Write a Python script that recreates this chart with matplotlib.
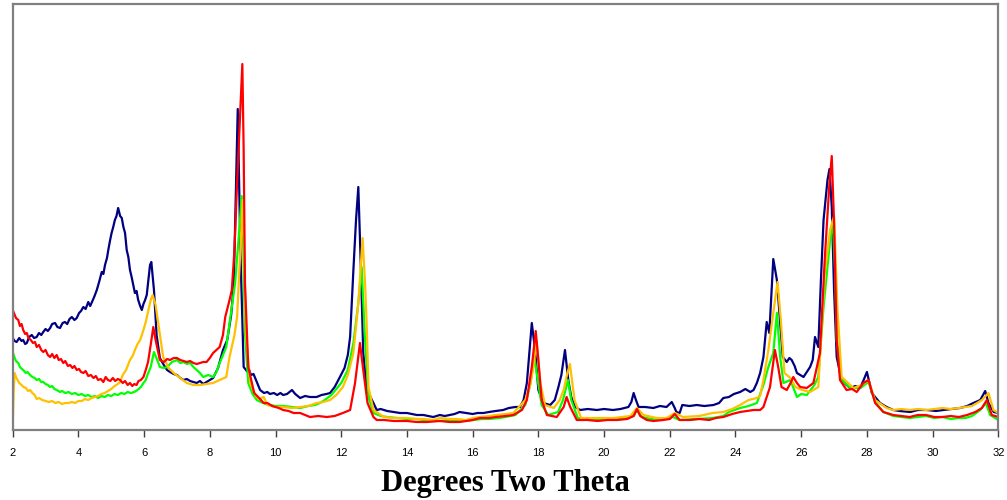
import matplotlib.pyplot as plt

# x in degrees 2-theta, y in arbitrary intensity units
navy_x = [2.0, 2.06, 2.12, 2.2, 2.27, 2.32, 2.38, 2.43, 2.5, 2.58, 2.65, 2.73, 2.8, 2.87, 2.93, 3.0, 3.07,
          3.14, 3.2, 3.29, 3.36, 3.44, 3.52, 3.59, 3.66, 3.73, 3.8, 3.88, 3.95, 4.02, 4.08, 4.15, 4.22, 4.3,
          4.36, 4.4, 4.48, 4.56, 4.63, 4.71, 4.76, 4.81, 4.87, 4.91, 4.96, 5.01, 5.06, 5.11, 5.16, 5.21,
          5.27, 5.32, 5.37, 5.42, 5.47, 5.52, 5.57, 5.62, 5.67, 5.72, 5.77, 5.82, 5.88, 5.93, 5.98, 6.03,
          6.08, 6.13, 6.18, 6.22, 6.3, 6.38, 6.48, 6.6, 6.7, 6.79, 6.9, 7.0, 7.1, 7.2, 7.3, 7.4, 7.5, 7.6,
          7.7, 7.8, 7.9, 8.0, 8.1, 8.25, 8.4, 8.53, 8.65, 8.73, 8.8, 8.85, 8.93, 9.03, 9.1, 9.15, 9.2, 9.25,
          9.33, 9.43, 9.53, 9.65, 9.75, 9.83, 9.95, 10.05, 10.15, 10.23, 10.35, 10.5, 10.6, 10.75, 10.9,
          11.05, 11.25, 11.4, 11.55, 11.66, 11.8, 11.96, 12.1, 12.2, 12.27, 12.37, 12.45, 12.52, 12.6,
          12.67, 12.78, 12.98, 13.08, 13.2, 13.4, 13.6, 13.79, 14.0, 14.15, 14.3, 14.5, 14.65, 14.8, 15.0,
          15.15, 15.3, 15.45, 15.6, 15.8, 16.0, 16.15, 16.33, 16.5, 16.7, 16.93, 17.1, 17.3, 17.44, 17.55,
          17.65, 17.72, 17.8, 17.9, 18.0, 18.15, 18.36, 18.5, 18.61, 18.7, 18.81, 18.91, 19.0, 19.12,
          19.27, 19.5, 19.78, 20.0, 20.27, 20.5, 20.74, 20.83, 20.9, 20.97, 21.05, 21.25, 21.5, 21.7, 21.9,
          22.06, 22.15, 22.2, 22.3, 22.38, 22.6, 22.82, 23.05, 23.33, 23.5, 23.63, 23.8, 23.95, 24.14,
          24.3, 24.45, 24.55, 24.65, 24.75, 24.85, 24.95, 25.03, 25.1, 25.15, 25.26, 25.36, 25.44, 25.56,
          25.64, 25.71, 25.8, 25.87, 25.97, 26.07, 26.17, 26.27, 26.35, 26.42, 26.52, 26.6, 26.68, 26.8,
          26.86, 26.93, 27.0, 27.08, 27.23, 27.35, 27.49, 27.65, 27.79, 27.9, 28.0, 28.15, 28.4, 28.6,
          28.8, 29.0, 29.32, 29.55, 29.82, 30.1, 30.33, 30.6, 30.84, 31.05, 31.24, 31.45, 31.6, 31.7,
          31.86, 32.0]
navy_y = [92, 89, 88, 92, 89, 90, 86, 87, 93, 95, 92, 93, 97, 95, 98, 101, 99,
          102, 106, 107, 103, 102, 107, 108, 106, 111, 113, 110, 112, 117, 119, 123, 121, 128,
          124, 127, 133, 140, 148, 158, 156, 165, 172, 180, 189, 197, 203, 210, 214, 222,
          214, 212, 203, 197, 180, 173, 160, 153, 145, 137, 139, 130, 124, 120, 126, 130,
          135, 150, 165, 168, 140, 95, 72, 65, 60, 58, 56, 55, 52, 50, 51, 49, 48, 47,
          49, 46, 48, 50, 52, 62, 80, 90, 115, 147, 247, 321, 180, 63, 60, 58, 60, 55,
          56, 48, 40, 37, 38, 36, 37, 35, 37, 35, 36, 40, 36, 32, 34,
          33, 33, 35, 36, 37, 43, 53, 62, 75, 93, 160, 210, 243, 160,
          77, 40, 27, 20, 21, 19, 18, 17, 17, 16, 15, 15, 14, 13, 15,
          14, 15, 16, 18, 17, 16, 17, 17, 18, 19, 20, 22, 23, 23, 30,
          47, 75, 107, 80, 40, 27, 25, 30, 43, 55, 80, 50, 33, 23,
          20, 21, 20, 21, 20, 21, 23, 28, 37, 30, 23, 23, 22, 24, 23,
          28, 22, 18, 17, 25, 24, 25, 24, 25, 27, 32, 33, 36, 38,
          41, 38, 40, 47, 57, 73, 108, 97, 140, 171, 150, 107, 73, 68,
          72, 70, 64, 57, 55, 53, 58, 63, 70, 93, 83, 150, 210, 250,
          261, 223, 140, 73, 50, 46, 42, 44, 42, 50, 58, 37, 27, 23,
          20, 19, 18, 20, 20, 19, 20, 21, 22, 24, 27, 30, 39, 27,
          18, 17]

red_x = [2.0, 2.05, 2.1, 2.17, 2.22, 2.27, 2.32, 2.38, 2.43, 2.48, 2.55, 2.62, 2.68, 2.73, 2.8, 2.87, 2.93,
         3.0, 3.07, 3.14, 3.2, 3.27, 3.34, 3.4, 3.47, 3.54, 3.6, 3.68, 3.75, 3.82, 3.88, 3.95, 4.02, 4.08,
         4.15, 4.22, 4.3, 4.38, 4.46, 4.53, 4.6, 4.68, 4.76, 4.83, 4.9, 4.97, 5.05, 5.12, 5.2, 5.27, 5.35,
         5.42, 5.5, 5.57, 5.64, 5.7, 5.77, 5.83, 5.9, 5.98, 6.05, 6.12, 6.2, 6.28, 6.35, 6.48, 6.6, 6.7,
         6.79, 6.9, 7.0, 7.1, 7.2, 7.3, 7.4, 7.5, 7.6, 7.7, 7.8, 7.9, 8.0, 8.1, 8.2, 8.3, 8.4, 8.47, 8.6,
         8.67, 8.75, 8.83, 8.93, 8.99, 9.03, 9.07, 9.17, 9.35, 9.5, 9.64, 9.75, 9.9, 10.1, 10.23, 10.4,
         10.55, 10.75, 10.9, 11.05, 11.3, 11.56, 11.8, 12.05, 12.27, 12.42, 12.57, 12.67, 12.8, 12.98,
         13.08, 13.3, 13.6, 14.0, 14.3, 14.6, 15.0, 15.3, 15.6, 16.0, 16.22, 16.5, 16.7, 17.0, 17.24,
         17.5, 17.65, 17.8, 17.92, 18.0, 18.1, 18.26, 18.56, 18.77, 18.86, 18.97, 19.17, 19.5, 19.8, 20.1,
         20.4, 20.7, 20.9, 21.0, 21.1, 21.3, 21.5, 21.8, 22.0, 22.15, 22.3, 22.6, 22.9, 23.2, 23.4, 23.63,
         23.9, 24.14, 24.35, 24.55, 24.75, 24.85, 25.05, 25.2, 25.3, 25.4, 25.56, 25.66, 25.76, 25.87,
         25.97, 26.17, 26.37, 26.57, 26.72, 26.86, 26.93, 27.0, 27.08, 27.18, 27.38, 27.55, 27.69, 27.89,
         28.05, 28.25, 28.5, 28.8, 29.05, 29.3, 29.55, 29.8, 30.05, 30.3, 30.55, 30.8, 31.05, 31.3, 31.5,
         31.65, 31.8, 32.0]
red_y = [120, 116, 112, 110, 104, 106, 100, 96, 97, 92, 90, 87, 88, 83, 85, 80, 78,
         80, 75, 73, 76, 72, 75, 70, 71, 67, 69, 64, 65, 62, 64, 60, 61, 58,
         57, 59, 54, 55, 52, 54, 50, 51, 48, 53, 50, 49, 52, 49, 51, 50, 47,
         49, 45, 47, 44, 46, 45, 49, 50, 53, 60, 68, 85, 103, 90, 70, 68, 71,
         70, 72, 72, 70, 69, 68, 69, 67, 66, 67, 68, 68, 72, 77, 80, 83, 95, 113, 130,
         140, 180, 247, 320, 366, 280, 147, 63, 37, 32, 27, 27, 24, 22, 20, 19,
         17, 17, 15, 13, 14, 13, 14, 17, 20, 47, 87, 60, 27, 13,
         10, 10, 9, 9, 8, 8, 9, 8, 8, 10, 12, 12, 13, 14, 15,
         20, 30, 63, 99, 70, 30, 15, 13, 23, 33, 23, 10, 10, 9, 10,
         10, 11, 14, 21, 14, 10, 9, 10, 11, 16, 10, 10, 11, 10, 12, 13,
         16, 18, 19, 20, 20, 23, 43, 80, 63, 43, 40, 46, 53, 47,
         43, 42, 47, 77, 173, 247, 274, 207, 90, 50, 40, 41, 38, 47,
         50, 27, 18, 15, 14, 13, 15, 15, 13, 13, 14, 13, 15, 18, 22,
         30, 15, 13]

green_x = [2.0, 2.05, 2.1, 2.17, 2.22, 2.28, 2.32, 2.4, 2.45, 2.53, 2.6, 2.67, 2.73, 2.8, 2.87, 2.93, 3.0,
           3.07, 3.14, 3.2, 3.27, 3.34, 3.44, 3.5, 3.6, 3.7, 3.8, 3.9, 4.0, 4.1, 4.2, 4.3, 4.4, 4.5, 4.6,
           4.7, 4.8, 4.9, 5.0, 5.1, 5.2, 5.3, 5.4, 5.5, 5.6, 5.7, 5.8, 5.9, 5.98, 6.05, 6.1, 6.2, 6.3, 6.4,
           6.48, 6.6, 6.7, 6.85, 7.0, 7.1, 7.2, 7.3, 7.4, 7.5, 7.6, 7.7, 7.8, 7.95, 8.1, 8.2, 8.3, 8.5,
           8.6, 8.77, 8.89, 8.97, 9.02, 9.07, 9.17, 9.3, 9.43, 9.55, 9.7, 9.85, 10.0, 10.25, 10.5, 10.75,
           11.0, 11.2, 11.35, 11.5, 11.7, 12.0, 12.2, 12.37, 12.52, 12.62, 12.72, 12.83, 12.98, 13.2, 13.4,
           13.7, 14.0, 14.3, 14.5, 14.8, 15.0, 15.3, 15.5, 15.8, 16.0, 16.3, 16.5, 16.8, 17.0, 17.3, 17.6,
           17.75, 17.88, 17.98, 18.1, 18.3, 18.6, 18.75, 18.9, 19.0, 19.2, 19.6, 20.0, 20.5, 20.9, 21.0,
           21.15, 21.6, 22.1, 22.3, 22.8, 23.3, 23.63, 23.8, 24.14, 24.4, 24.65, 24.85, 25.0, 25.15, 25.26,
           25.36, 25.46, 25.67, 25.87, 26.0, 26.17, 26.4, 26.52, 26.68, 26.88, 26.96, 27.03, 27.08, 27.23,
           27.5, 27.8, 28.05, 28.25, 28.5, 28.8, 29.05, 29.3, 29.55, 29.8, 30.05, 30.3, 30.55, 30.8, 31.0,
           31.2, 31.45, 31.62, 31.75, 32.0]
green_y = [78, 73, 69, 67, 63, 61, 60, 57, 58, 55, 53, 52, 50, 51, 48, 48, 46,
           45, 43, 44, 41, 40, 38, 39, 37, 38, 36, 37, 35, 36, 34, 35, 33, 34, 32,
           34, 33, 35, 34, 36, 35, 37, 36, 38, 37, 38, 40, 43, 47, 50, 55, 63, 78, 70,
           63, 62, 63, 68, 70, 67, 68, 66, 67, 63, 60, 57, 53, 55, 53, 58, 67, 83,
           107, 147, 197, 234, 180, 97, 47, 36, 30, 28, 26, 25, 24, 24, 23, 22,
           24, 25, 27, 30, 35, 47, 60, 87, 127, 163, 93, 33, 17, 14, 13,
           12, 11, 11, 10, 10, 9, 10, 10, 9, 10, 11, 11, 12, 13, 15, 25,
           45, 72, 50, 25, 15, 18, 30, 50, 30, 12, 10, 10, 11, 14, 20,
           13, 10, 13, 10, 11, 12, 14, 18, 22, 24, 27, 45, 63, 77, 117,
           73, 47, 50, 33, 36, 35, 45, 53, 123, 190, 210, 160, 90, 50,
           42, 42, 48, 28, 18, 14, 13, 12, 13, 14, 12, 13, 11, 12, 12,
           14, 20, 27, 15, 10]

gold_x = [2.0, 2.03, 2.06, 2.1, 2.15, 2.2, 2.27, 2.33, 2.4, 2.47, 2.53, 2.6, 2.67, 2.73, 2.8, 2.9, 3.0, 3.1,
          3.2, 3.3, 3.4, 3.5, 3.6, 3.7, 3.8, 3.9, 4.0, 4.1, 4.2, 4.3, 4.4, 4.5, 4.6, 4.7, 4.8, 4.9, 5.0,
          5.1, 5.2, 5.27, 5.35, 5.45, 5.52, 5.57, 5.65, 5.72, 5.8, 5.88, 5.98, 6.05, 6.13, 6.2, 6.26, 6.35,
          6.43, 6.58, 6.75, 6.9, 7.1, 7.3, 7.5, 7.7, 7.9, 8.1, 8.3, 8.5, 8.6, 8.75, 8.83, 8.93, 9.0, 9.05,
          9.1, 9.23, 9.4, 9.5, 9.64, 9.75, 10.0, 10.23, 10.5, 10.75, 11.0, 11.25, 11.45, 11.66, 11.85,
          12.05, 12.2, 12.37, 12.52, 12.65, 12.72, 12.77, 12.83, 12.98, 13.3, 13.6, 14.0, 14.3, 14.5,
          14.8, 15.0, 15.3, 15.5, 15.8, 16.0, 16.22, 16.5, 16.7, 17.0, 17.24, 17.6, 17.75, 17.85, 17.94,
          18.06, 18.2, 18.47, 18.65, 18.77, 18.87, 18.96, 19.1, 19.3, 19.8, 20.3, 20.8, 21.0, 21.2, 21.6,
          21.9, 22.16, 22.4, 22.9, 23.3, 23.63, 23.9, 24.14, 24.4, 24.65, 24.75, 24.85, 25.0, 25.15, 25.28,
          25.38, 25.49, 25.67, 25.82, 26.03, 26.27, 26.52, 26.6, 26.72, 26.88, 27.0, 27.1, 27.23, 27.59,
          27.85, 28.04, 28.25, 28.6, 28.8, 29.05, 29.3, 29.55, 29.8, 30.05, 30.3, 30.55, 30.8, 31.0, 31.2,
          31.5, 31.7, 31.85, 32.0]
gold_y = [3, 40, 57, 53, 50, 47, 45, 43, 42, 39, 40, 37, 35, 31, 32, 30, 29, 28,
          29, 27, 28, 26, 27, 27, 28, 27, 29, 29, 31, 30, 32, 33, 34, 36, 37, 39, 41,
          44, 46, 48, 55, 60, 66, 70, 74, 80, 86, 90, 100, 108, 120, 130, 135, 125,
          107, 73, 62, 57, 52, 47, 45, 45, 46, 47, 50, 53, 73, 95, 113, 180, 230, 170,
          97, 47, 34, 31, 33, 25, 23, 23, 22, 23, 24, 27, 28, 30, 35,
          43, 55, 77, 127, 192, 150, 110, 43, 20, 13, 12, 12, 11, 11,
          10, 12, 11, 11, 10, 12, 13, 14, 15, 16, 17, 30, 45, 63, 90,
          47, 25, 22, 30, 40, 55, 66, 30, 12, 12, 12, 14, 22, 15, 12,
          12, 17, 13, 14, 17, 18, 21, 25, 30, 32, 34, 50, 80, 117, 148,
          110, 57, 52, 43, 40, 38, 43, 90, 157, 200, 214, 123, 53, 42,
          45, 50, 30, 22, 20, 21, 20, 21, 20, 21, 22, 21, 22, 23, 24,
          30, 37, 20, 17]

fig = plt.figure(figsize=(10.07, 5.0), dpi=100)
ax = fig.add_axes([0.0126, 0.14, 0.9788, 0.852])

ax.plot(navy_x, navy_y, color="#000080", linewidth=1.6)
ax.plot(green_x, green_y, color="#00FF00", linewidth=1.6)
ax.plot(gold_x, gold_y, color="#FFC000", linewidth=1.6)
ax.plot(red_x, red_y, color="#FF0000", linewidth=1.6)

ax.set_xlim(2, 32)
ax.set_ylim(0, 426)
ax.set_xticks(range(2, 33, 2))
ax.set_yticks([])
ax.tick_params(axis="x", direction="out", length=5, width=1, color="#404040",
               labelsize=8, pad=8)
for lbl in ax.get_xticklabels():
    lbl.set_family("Liberation Sans")
for side in ["top", "left", "right", "bottom"]:
    ax.spines[side].set_color("#808080")
    ax.spines[side].set_linewidth(1.6)

ax.set_xlabel("Degrees Two Theta", family="Liberation Serif", fontweight="bold",
              fontsize=22, labelpad=8)

plt.savefig("out.png", dpi=100)
